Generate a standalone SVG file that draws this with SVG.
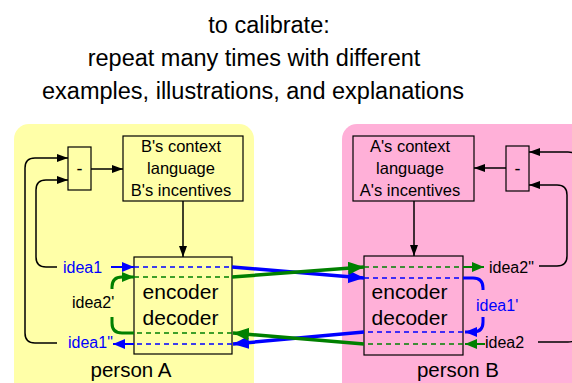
<svg xmlns="http://www.w3.org/2000/svg" width="572" height="383" viewBox="0 0 572 383">
<style>
text{font-family:"Liberation Sans",Arial,sans-serif;fill:#000}
.title{font-size:23.5px;text-anchor:middle}
.box{fill:none;stroke:#000;stroke-width:1.2}
.ctx{font-size:16.5px;text-anchor:middle}
.enc{font-size:21px;text-anchor:middle}
.lbl{font-size:16px}
.per{font-size:20.5px;text-anchor:middle}
.blk{fill:none;stroke:#000;stroke-width:1.5}
.b{stroke:#0000ff;fill:none}
.g{stroke:#008000;fill:none}
.thick{stroke-width:3.5}
.mid{stroke-width:3}
.thin{stroke-width:2}
.dash{stroke-width:1.5;stroke-dasharray:5 4}
</style>
<defs>
<marker id="ak" markerUnits="userSpaceOnUse" markerWidth="12" markerHeight="10" refX="11" refY="4" orient="auto"><path d="M0,0 L11,4 L0,8 Z" fill="#000"/></marker>
<marker id="ab" markerUnits="userSpaceOnUse" markerWidth="14" markerHeight="12" refX="12" refY="5" orient="auto"><path d="M0,0 L12,5 L0,10 Z" fill="#0000ff"/></marker>
<marker id="ag" markerUnits="userSpaceOnUse" markerWidth="14" markerHeight="12" refX="12" refY="5" orient="auto"><path d="M0,0 L12,5 L0,10 Z" fill="#008000"/></marker>
<marker id="abL" markerUnits="userSpaceOnUse" markerWidth="18" markerHeight="14" refX="16" refY="6.5" orient="auto"><path d="M0,0 L16,6.5 L0,13 Z" fill="#0000ff"/></marker>
<marker id="agL" markerUnits="userSpaceOnUse" markerWidth="18" markerHeight="14" refX="16" refY="6.5" orient="auto"><path d="M0,0 L16,6.5 L0,13 Z" fill="#008000"/></marker>
</defs>

<g id="title">
<text class="title" x="269" y="33">to calibrate:</text>
<text class="title" x="254" y="66">repeat many times with different</text>
<text class="title" x="253" y="99">examples, illustrations, and explanations</text>
</g>

<g id="personA">
<rect x="14" y="124" width="240" height="275" rx="15" fill="#ffffa8"/>
<text class="per" x="131" y="377">person A</text>
</g>
<g id="personB">
<rect x="342" y="124" width="250" height="275" rx="15" fill="#ffb0d8"/>
<text class="per" x="458" y="377">person B</text>
</g>

<g id="minusA">
<rect class="box" x="68" y="147" width="23" height="43"/>
<text x="79.5" y="175" font-size="18" text-anchor="middle">-</text>
</g>
<g id="contextB">
<rect class="box" x="123" y="136" width="120" height="65"/>
<text class="ctx" x="181" y="152">B's context</text>
<text class="ctx" x="181" y="174">language</text>
<text class="ctx" x="181" y="196">B's incentives</text>
</g>
<g id="encoderA">
<rect class="box" x="134" y="257" width="98" height="97"/>
<text class="enc" x="180.5" y="299">encoder</text>
<text class="enc" x="180.5" y="325">decoder</text>
</g>

<g id="minusB">
<rect class="box" x="506" y="146" width="23" height="45"/>
<text x="517.5" y="175" font-size="18" text-anchor="middle">-</text>
</g>
<g id="contextA">
<rect class="box" x="353" y="136" width="121" height="65"/>
<text class="ctx" x="410" y="152">A's context</text>
<text class="ctx" x="410" y="174">language</text>
<text class="ctx" x="410" y="196">A's incentives</text>
</g>
<g id="encoderB">
<rect class="box" x="364" y="256" width="99" height="99"/>
<text class="enc" x="409.5" y="299">encoder</text>
<text class="enc" x="409.5" y="325">decoder</text>
</g>

<g id="labels">
<text class="lbl" x="63" y="273" style="fill:#0000ff">idea1</text>
<text class="lbl" x="72" y="308">idea2'</text>
<text class="lbl" x="68" y="348" style="fill:#0000ff">idea1"</text>
<text class="lbl" x="489" y="273">idea2"</text>
<text class="lbl" x="476" y="311" style="fill:#0000ff">idea1'</text>
<text class="lbl" x="485" y="348">idea2</text>
</g>

<g id="connectors">
<line class="blk" x1="91" y1="169" x2="123" y2="169" marker-end="url(#ak)"/>
<line class="blk" x1="183" y1="201" x2="183" y2="257" marker-end="url(#ak)"/>
<path class="blk" d="M57,343 H35 Q25,343 25,333 V168 Q25,158 35,158 H68" marker-end="url(#ak)"/>
<path class="blk" d="M57,267 H46 Q36,267 36,257 V190 Q36,180 46,180 H68" marker-end="url(#ak)"/>
<line class="blk" x1="506" y1="168" x2="474" y2="168" marker-end="url(#ak)"/>
<line class="blk" x1="414" y1="201" x2="414" y2="256" marker-end="url(#ak)"/>
<path class="blk" d="M539,266 H557 Q567,266 567,256 V195 Q567,185 557,185 H529" marker-end="url(#ak)"/>
<path class="blk" d="M538,342 H568 Q578,342 578,332 V162 Q578,152 568,152 H529" marker-end="url(#ak)"/>

<line class="b thin" x1="111" y1="267" x2="134" y2="267" marker-end="url(#ab)"/>
<line class="b dash" x1="134" y1="267" x2="232" y2="267"/>
<line class="b thick" x1="232" y1="267" x2="364" y2="278" marker-end="url(#abL)"/>
<line class="b dash" x1="364" y1="278" x2="463" y2="278"/>
<path class="b mid" d="M463,278 H473 Q483,278 483,288 V290"/>
<path class="b mid" d="M483,317 V322 Q483,332 473,332 H465" marker-end="url(#ab)"/>
<line class="b dash" x1="463" y1="332" x2="364" y2="332"/>
<line class="b thick" x1="364" y1="332" x2="233" y2="344" marker-end="url(#abL)"/>
<line class="b dash" x1="232" y1="344" x2="134" y2="344"/>
<line class="b thin" x1="134" y1="344" x2="113" y2="344" marker-end="url(#ab)"/>

<line class="g thin" x1="485" y1="344" x2="465" y2="344" marker-end="url(#ag)"/>
<line class="g dash" x1="463" y1="344" x2="364" y2="344"/>
<line class="g thick" x1="364" y1="344" x2="233" y2="333" marker-end="url(#agL)"/>
<line class="g dash" x1="232" y1="333" x2="134" y2="333"/>
<path class="g mid" d="M134,333 H122 Q112,333 112,323 V317"/>
<path class="g mid" d="M112,289 V287 Q112,277 122,277 H134" marker-end="url(#ag)"/>
<line class="g dash" x1="134" y1="277" x2="232" y2="277"/>
<line class="g thick" x1="232" y1="277" x2="364" y2="267" marker-end="url(#agL)"/>
<line class="g dash" x1="364" y1="267" x2="463" y2="267"/>
<line class="g thin" x1="463" y1="267" x2="484" y2="267" marker-end="url(#ag)"/>
</g>
</svg>
